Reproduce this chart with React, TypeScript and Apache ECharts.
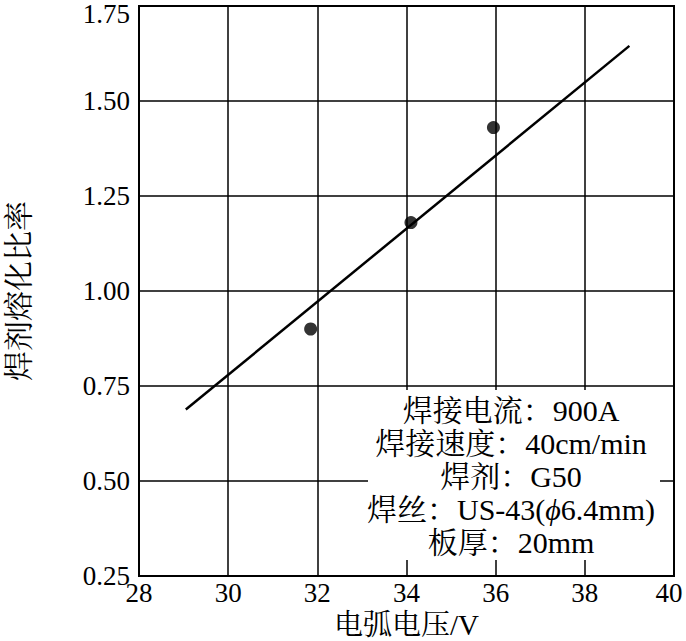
import React, { useEffect, useRef } from "react";
import * as echarts from "echarts";

const xMin = 28;
const xMax = 40;
const xStep = 2;
const yMin = 0.25;
const yMax = 1.75;
const yStep = 0.25;

const measuredPoints: [number, number][] = [
  [31.85, 0.9],
  [34.1, 1.18],
  [35.95, 1.43],
];

const fitLine: [number, number][] = [
  [29.05, 0.688],
  [39.0, 1.645],
];

const xAxisName = "电弧电压/V";
const yAxisName = "焊剂熔化比率";

const annotationLines = [
  "焊接电流：900A",
  "焊接速度：40cm/min",
  "焊剂：G50",
  "焊丝：US-43({i|ϕ}6.4mm)",
  "板厚：20mm",
];

const FONT = "'Liberation Serif', 'Times New Roman', 'Noto Serif CJK SC', 'Noto Sans CJK SC', serif";

export default function App() {
  const ref = useRef<HTMLDivElement>(null);

  useEffect(() => {
    document.body.style.margin = "0";
    if (!ref.current) return;
    const chart = echarts.init(ref.current, undefined, { renderer: "svg" });
    chart.setOption({
      animation: false,
      backgroundColor: "#fff",
      textStyle: { fontFamily: FONT, color: "#000" },
      grid: {
        left: 139,
        right: 12,
        top: 6,
        bottom: 65,
        outerBoundsMode: "none",
        containLabel: false,
        show: true,
        borderColor: "#000",
        borderWidth: 2,
        backgroundColor: "transparent",
      },
      xAxis: {
        type: "value",
        min: xMin,
        max: xMax,
        interval: xStep,
        name: xAxisName,
        nameLocation: "middle",
        nameGap: 32,
        nameTextStyle: { fontSize: 29, color: "#000", fontFamily: FONT },
        axisLine: { show: true, lineStyle: { color: "#000", width: 2 } },
        axisTick: { show: false },
        axisLabel: {
          fontSize: 27,
          color: "#000",
          margin: 3,
          fontFamily: FONT,
          formatter: (v: number) => (v === xMax ? `{m|${v}}` : `${v}`),
          rich: {
            m: { fontSize: 27, fontFamily: FONT, color: "#000", padding: [0, 10, 0, 0] },
          },
        },
        splitLine: { show: true, lineStyle: { color: "#000", width: 1.5 } },
      },
      yAxis: {
        type: "value",
        min: yMin,
        max: yMax,
        interval: yStep,
        name: yAxisName,
        nameLocation: "middle",
        nameGap: 106,
        nameTextStyle: { fontSize: 30, color: "#000", fontFamily: FONT, padding: [0, 0, 0, 0] },
        axisLine: { show: true, lineStyle: { color: "#000", width: 2 } },
        axisTick: { show: false },
        axisLabel: {
          fontSize: 27,
          color: "#000",
          margin: 9,
          fontFamily: FONT,
          formatter: (v: number) => (v === yMax ? `{m|${v.toFixed(2)}}` : v.toFixed(2)),
          rich: {
            m: { fontSize: 27, fontFamily: FONT, color: "#000", padding: [16, 0, 0, 0] },
          },
        },
        splitLine: { show: true, lineStyle: { color: "#000", width: 1.5 } },
      },
      series: [
        {
          type: "line",
          data: fitLine,
          symbol: "none",
          lineStyle: { color: "#000", width: 2.5 },
          z: 3,
        },
        {
          type: "scatter",
          data: measuredPoints,
          symbol: "circle",
          symbolSize: 13,
          itemStyle: { color: "#000" },
          z: 4,
        },
      ],
      graphic: {
        elements: [
          {
            type: "rect",
            z: 50,
            shape: { x: 368, y: 390, width: 292, height: 170 },
            style: { fill: "#fff", stroke: null },
          },
          {
            type: "text",
            z: 51,
            x: 511,
            y: 394,
            style: {
              text: annotationLines.join("\n"),
              fill: "#000",
              fontSize: 30,
              fontFamily: FONT,
              lineHeight: 33,
              align: "center",
              verticalAlign: "top",
              rich: {
                i: { fontStyle: "italic", fontSize: 30, fontFamily: FONT, fill: "#000" },
              },
            },
          },
        ],
      },
    });
    return () => chart.dispose();
  }, []);

  return <div ref={ref} style={{ width: 686, height: 641 }} />;
}
